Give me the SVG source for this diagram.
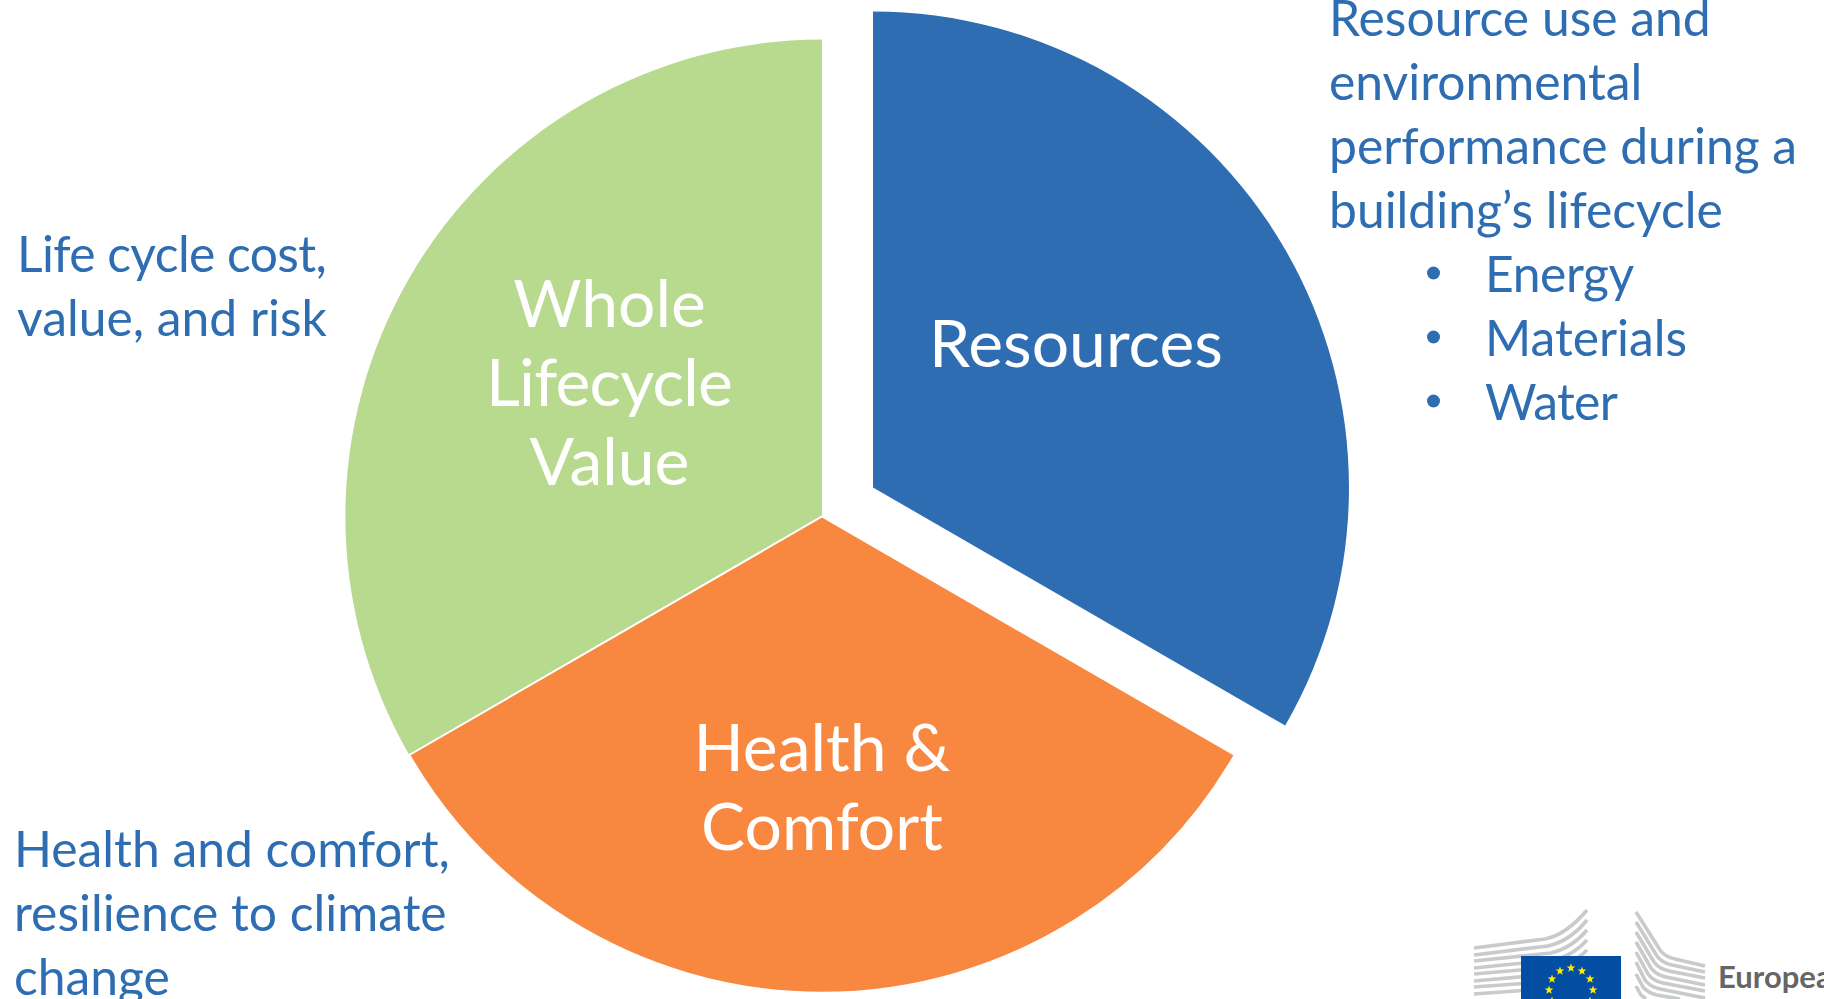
<svg xmlns="http://www.w3.org/2000/svg" width="1824" height="999" viewBox="0 0 1824 999">
<style>
text{font-family:"Lato","Liberation Sans",sans-serif}
.d{font-size:49.8px;fill:#2e6db1}
.w{font-size:66px;fill:#fff;text-anchor:middle}
.s{fill:none;stroke:#c8cacc;stroke-width:3.6}
</style>
<defs><polygon id="st" points="0,-4.6 1.1,-1.5 4.4,-1.4 1.8,0.6 2.7,3.7 0,1.9 -2.7,3.7 -1.8,0.6 -4.4,-1.4 -1.1,-1.5" fill="#ffed00"/></defs>
<rect width="1824" height="999" fill="#fff"/>
<g id="connectors"/>
<g id="node-resources">
<path d="M873,487.5V11.5A476,476 0 0 1 1285.200,725.500Z" fill="#2e6db1"/>
<text class="w" x="1076" y="367">Resources</text>
</g>
<g id="node-value">
<path d="M822,516.500V39.500A477,477 0 0 0 409.300,755Z" fill="#b7da8e"/>
<text class="w" x="609.500" y="327">Whole</text>
<text class="w" x="609" y="406" letter-spacing="-0.8">Lifecycle</text>
<text class="w" x="609.500" y="485">Value</text>
</g>
<g id="node-health">
<path d="M822,516.500L1234.700,755A477,477 0 0 1 409.300,755Z" fill="#f88740" stroke="#fff" stroke-width="2"/>
<text class="w" x="822" y="771">Health &amp;</text>
<text class="w" x="822" y="850">Comfort</text>
</g>
<g id="desc-resources">
<text class="d" x="1329" y="36">Resource use and</text>
<text class="d" x="1329" y="100">environmental</text>
<text class="d" x="1329" y="164">performance during a</text>
<text class="d" x="1329" y="228">building’s lifecycle</text>
<circle cx="1433.500" cy="273" r="6.500" fill="#2e6db1"/>
<text class="d" x="1485" y="292" letter-spacing="-0.4">Energy</text>
<circle cx="1433.500" cy="337" r="6.500" fill="#2e6db1"/>
<text class="d" x="1485" y="356">Materials</text>
<circle cx="1433.500" cy="401" r="6.500" fill="#2e6db1"/>
<text class="d" x="1485" y="420" letter-spacing="-0.6">Water</text>
</g>
<g id="desc-value">
<text class="d" x="17" y="272" letter-spacing="-0.6">Life cycle cost,</text>
<text class="d" x="17" y="336">value, and risk</text>
</g>
<g id="desc-health">
<text class="d" x="14" y="867">Health and comfort,</text>
<text class="d" x="14" y="931">resilience to climate</text>
<text class="d" x="14" y="995">change</text>
</g>
<g id="logo">
<g class="s">
<path d="M1474,948L1545,939Q1566,935 1587,910"/>
<path d="M1474,955L1548,946Q1570,941 1587,920"/>
<path d="M1474,961L1551,953Q1572,948 1587,930"/>
<path d="M1474,968L1554,960Q1574,955 1587,940"/>
<path d="M1474,974L1556,967Q1576,962 1587,950"/>
<path d="M1474,981L1530,976"/>
<path d="M1474,987L1530,983"/>
<path d="M1474,994L1530,990"/>
<path d="M1636,912L1660,950Q1665,957 1675,959L1705,966"/>
<path d="M1636,922L1657,956Q1662,963 1672,965L1705,972"/>
<path d="M1636,932L1654,962Q1659,969 1669,971L1705,978"/>
<path d="M1636,942L1651,968Q1656,975 1666,977L1705,985"/>
<path d="M1636,952L1648,974Q1653,981 1663,983L1705,991"/>
<path d="M1636,962L1645,980Q1650,987 1660,989L1705,998"/>
<path d="M1636,974L1643,987Q1648,993 1657,995L1680,999"/>
<path d="M1636,986L1641,995L1646,999"/>
</g>
<rect x="1521" y="956" width="100" height="43" fill="#034ea2"/>
<use href="#st" x="1571" y="968"/><use href="#st" x="1582" y="971"/><use href="#st" x="1590" y="979"/><use href="#st" x="1593" y="990"/><use href="#st" x="1590" y="1001"/>
<use href="#st" x="1560" y="971"/><use href="#st" x="1552" y="979"/><use href="#st" x="1549" y="990"/><use href="#st" x="1552" y="1001"/>
<text x="1718" y="988" font-size="31" font-weight="700" fill="#666">Europea</text>
</g>
</svg>
